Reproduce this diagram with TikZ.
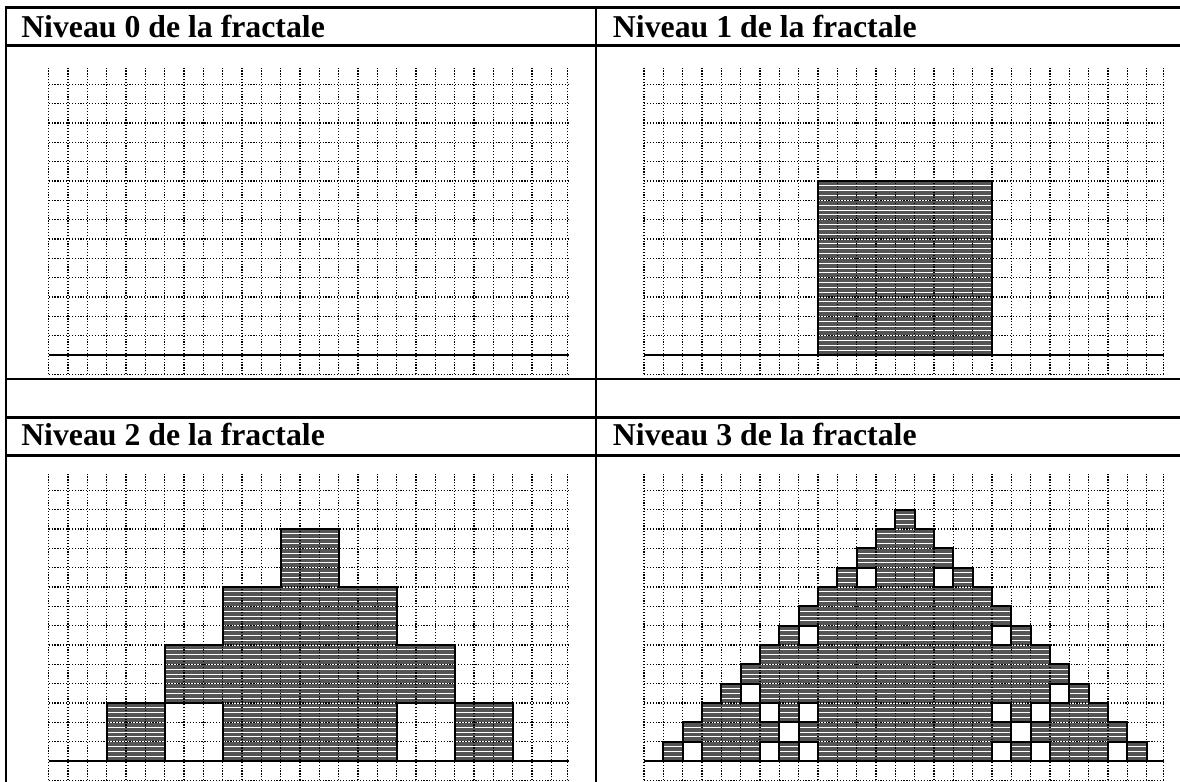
\documentclass[tikz,border=0pt]{standalone}
\usepackage{fontspec}
\setmainfont{Liberation Serif}
\usepackage{xcolor}
\usepackage{tikz}

\definecolor{fractfill}{RGB}{85,85,85}

\begin{document}
\begin{tikzpicture}[
    x=0.025cm, y=0.025cm,
    tablerule/.style={line width=1.8pt},
    headtext/.style={
        anchor=base west,
        inner sep=0pt,
        font=\bfseries\fontsize{22.6pt}{26pt}\selectfont
    },
    panel/.style={x=0.48325cm, y=0.48325cm},
    cellgrid/.style={line width=0.85pt, dash pattern=on 0.85pt off 1.2pt},
    hatchline/.style={white, line width=0.6pt},
    hatched/.style={
        fill=fractfill,
        line width=1.5pt,
        path picture={
            \foreach \k in {0,...,56}
                \draw[hatchline] ([yshift=\k*0.1208cm]path picture bounding box.south west)
                    -- ([yshift=\k*0.1208cm]path picture bounding box.south east);
        }
    },
    holebox/.style={fill=white, line width=1.5pt},
    groundline/.style={line width=1.4pt}
]
\useasboundingbox (0,0) rectangle (1180,782);

% table
\draw[tablerule] (6,0) -- (6,774.7) -- (1180,774.7);
\draw[tablerule] (596,0) -- (596,774.7);
\foreach \h in {736.3,403,364.7,326.7}
    \draw[tablerule] (6,\h) -- (1180,\h);

\node[headtext] (head0) at (21,744.7) {Niveau 0 de la fractale};
\node[headtext] (head1) at (612.7,744.7) {Niveau 1 de la fractale};
\node[headtext] (head2) at (21,336) {Niveau 2 de la fractale};
\node[headtext] (head3) at (612.7,336) {Niveau 3 de la fractale};

% level 1
\begin{scope}[shift={(644,427)}, panel]
    \draw[hatched] (9,0) rectangle (18,9);
\end{scope}

% level 2
\begin{scope}[shift={(48.7,21)}, panel]
    \draw[hatched] (3,0) -- (3,3) -- (6,3) -- (6,6) -- (9,6) -- (9,9) -- (12,9)
        -- (12,12) -- (15,12) -- (15,9) -- (18,9) -- (18,6) -- (21,6)
        -- (21,3) -- (24,3) -- (24,0) -- cycle;
    \draw[holebox] (6,0) rectangle (9,3);
    \draw[holebox] (18,0) rectangle (21,3);
\end{scope}

% level 3
\begin{scope}[shift={(644,21)}, panel]
    \draw[hatched] (1,0) \foreach \r in {1,...,12} { -- (\r,\r) -- (\r+1,\r) }
        -- (13,13) -- (14,13) \foreach \r in {12,...,1} { -- (26-\r,\r) -- (27-\r,\r) }
        -- (26,0) -- cycle;
    \foreach \c/\r in {2/0,6/0,8/0,18/0,20/0,24/0,7/1,19/1,6/2,8/2,
                       18/2,20/2,5/3,21/3,8/6,18/6,11/9,15/9}
        \draw[holebox] (\c,\r) rectangle ++(1,1);
\end{scope}

% grids
\foreach \ox/\oy in {48.7/427,644/427,48.7/21,644/21} {
    \begin{scope}[shift={(\ox,\oy)}, panel]
        \foreach \c in {0,...,26}
            \draw[cellgrid] (\c,-1) -- (\c,14.85);
        \draw[cellgrid] (26.85,-1) -- (26.85,14.85);
        \foreach \r in {-1,...,14}
            \draw[cellgrid] (0,\r) -- (26.85,\r);
        \draw[groundline] (0,0) -- (26.85,0);
    \end{scope}
}

\end{tikzpicture}
\end{document}
